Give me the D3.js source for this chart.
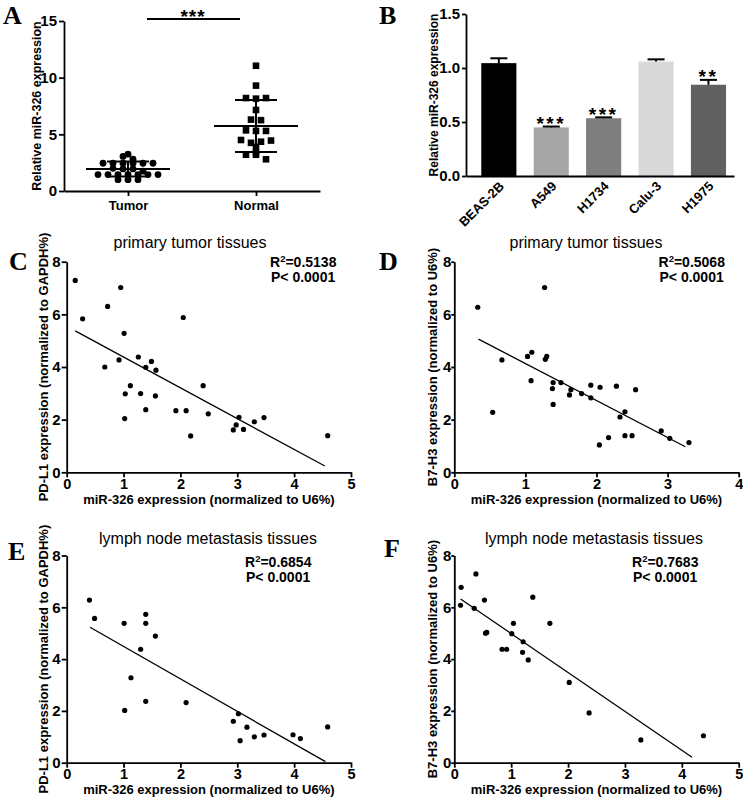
<!DOCTYPE html>
<html><head><meta charset="utf-8">
<script src="https://cdn.jsdelivr.net/npm/d3@7"></script>
<style>body{margin:0;background:#fff} svg{display:block}</style>
</head><body><svg id="c" width="743" height="798" font-family='"Liberation Sans", Arial, sans-serif'></svg>
<script>
// ---------- Panel A data ----------
const groupsA = ["Tumor", "Normal"];
const tumorVals = [3.25, 3.05, 2.8, 2.45, 2.45, 2.45, 2.45, 2.45, 2.45, 2.0, 1.95, 1.95, 1.75, 1.45, 1.45, 1.45, 1.45, 1.45, 1.45, 1.45, 1.0, 1.0, 1.0];
const normalVals = [11.05, 9.3, 8.2, 8.15, 8.2, 7.15, 6.3, 6.25, 5.35, 5.3, 5.3, 4.5, 4.25, 4.35, 4.45, 3.9, 3.4, 3.2, 3.2, 2.8];
const yTicksA = [0, 5, 10, 15];
const sigA = "***";
// ---------- Panel B data ----------
const cellLines = ["BEAS-2B", "A549", "H1734", "Calu-3", "H1975"];
const cellMeans = [1.045, 0.45, 0.535, 1.06, 0.845];
const cellErr = [0.045, 0.008, 0.008, 0.02, 0.045];
const cellStars = ["", "***", "***", "", "**"];
const yTicksB = [0, 0.5, 1.0, 1.5];
// ---------- Panel C data ----------
const cX = [0.15,0.28,0.72,0.95,1.01,0.67,0.92,1.26,1.39,1.49,1.57,1.12,1.03,1.30,1.56,2.05,2.40,1.39,1.92,2.10,2.49,1.02,2.18,3.03,2.98,2.93,3.11,3.30,3.47,4.59];
const cY = [7.29,5.83,6.30,7.02,5.28,4.00,4.27,4.38,3.99,4.21,3.88,3.29,2.98,2.99,2.90,5.88,3.29,2.38,2.34,2.34,2.22,2.04,1.38,2.09,1.80,1.61,1.63,1.92,2.08,1.39];
const fitC = [[0.15, 5.37], [4.54, 0.24]];
// ---------- Panel D data ----------
const dX = [0.33,1.27,0.67,1.03,1.09,1.28,1.30,1.08,1.39,1.50,1.38,1.64,1.62,1.79,1.92,1.92,2.05,2.28,2.55,1.39,0.54,2.40,2.33,2.04,2.17,2.40,2.50,2.91,3.03,3.30];
const dY = [6.27,7.02,4.27,4.40,4.56,4.29,4.40,3.48,3.41,3.41,3.18,3.14,2.94,2.99,3.31,2.83,3.23,3.27,3.14,2.58,2.28,2.30,2.10,1.04,1.32,1.39,1.39,1.57,1.29,1.13];
const fitD = [[0.34, 5.06], [3.25, 0.97]];
// ---------- Panel E data ----------
const eX = [0.40,0.49,1.01,1.39,1.39,1.56,1.30,1.13,1.02,1.39,2.10,2.93,3.02,3.17,3.05,3.30,3.47,3.98,4.11,4.59];
const eY = [6.28,5.57,5.38,5.73,5.38,4.89,4.38,3.28,2.02,2.37,2.32,1.60,1.89,1.37,0.85,1.00,1.07,1.08,0.93,1.38];
const fitE = [[0.41, 5.23], [4.55, 0.04]];
// ---------- Panel F data ----------
const fX = [0.12,0.11,0.35,0.53,1.38,0.55,0.57,1.04,1.01,1.68,0.84,0.92,1.21,1.20,1.30,2.02,2.37,3.28,4.38,0.38];
const fY = [6.77,6.08,5.96,6.28,6.39,5.00,5.03,5.38,4.98,5.38,4.38,4.38,4.67,4.26,3.97,3.10,1.92,0.88,1.04,7.29];
const fitF = [[0.11, 6.32], [4.18, 0.21]];
const scatterYTicks = [0, 2, 4, 6, 8];

const svg = d3.select("#c");
const FONT = '"Liberation Sans", Arial, sans-serif';

function styleAxis(g, fs) {
  g.attr("font-size", fs).attr("font-weight", "bold").attr("font-family", FONT);
  g.selectAll("path,line").attr("stroke", "#000").attr("stroke-width", 1.8);
  g.selectAll("text").attr("fill", "#000").attr("font-weight", "bold");
}
function letter(t, x, y) {
  svg.append("text").attr("x", x).attr("y", y).text(t)
    .attr("font-family", '"Liberation Serif", "Times New Roman", serif')
    .attr("font-size", 26).attr("font-weight", "bold").attr("fill", "#000");
}
function yLabel(t, x, yc, fs) {
  svg.append("text").attr("transform", `translate(${x},${yc}) rotate(-90)`)
    .attr("text-anchor", "middle").attr("font-weight", "bold").attr("font-size", fs).text(t);
}

// ================= Panel A =================
(function () {
  const x = d3.scalePoint().domain(groupsA).range([64, 320]).padding(0.5);
  const y = d3.scaleLinear().domain([0, 15]).range([191, 21]);
  const gy = svg.append("g").attr("transform", "translate(64,0)")
    .call(d3.axisLeft(y).tickValues(yTicksA).tickSize(5).tickSizeOuter(0).tickPadding(2));
  styleAxis(gy, 15);
  const gx = svg.append("g").attr("transform", "translate(0,191)")
    .call(d3.axisBottom(x).tickSize(5).tickSizeOuter(0).tickPadding(5));
  styleAxis(gx, 13);
  gx.selectAll("text").attr("dy", "0.71em");
  yLabel("Relative miR-326 expression", 41, 106, 12.5);
  letter("A", 3, 24);

  const sets = [tumorVals, normalVals];
  sets.forEach((vals, gi) => {
    const cx = x(groupsA[gi]);
    const rows = d3.group(vals.map(v => ({ v })), d => Math.round(d.v * 2));
    const pts = [];
    rows.forEach(arr => arr.forEach((d, i) => pts.push({ v: d.v, x: cx + (i - (arr.length - 1) / 2) * 10 })));
    if (gi === 0) {
      svg.append("g").selectAll("circle").data(pts).join("circle")
        .attr("cx", d => d.x).attr("cy", d => y(d.v)).attr("r", 3.4).attr("fill", "#000");
    } else {
      svg.append("g").selectAll("rect").data(pts).join("rect")
        .attr("x", d => d.x - 3.3).attr("y", d => y(d.v) - 3.3).attr("width", 6.6).attr("height", 6.6).attr("fill", "#000");
    }
    const m = d3.mean(vals), s = d3.deviation(vals);
    const g = svg.append("g").attr("stroke", "#000").attr("stroke-width", 2);
    g.append("line").attr("x1", cx - 42).attr("x2", cx + 42).attr("y1", y(m)).attr("y2", y(m));
    g.append("line").attr("x1", cx).attr("x2", cx).attr("y1", y(m - s)).attr("y2", y(m + s));
    g.append("line").attr("x1", cx - 21).attr("x2", cx + 21).attr("y1", y(m + s)).attr("y2", y(m + s));
    g.append("line").attr("x1", cx - 21).attr("x2", cx + 21).attr("y1", y(m - s)).attr("y2", y(m - s));
  });
  svg.append("line").attr("x1", 147).attr("x2", 240).attr("y1", 19).attr("y2", 19).attr("stroke", "#000").attr("stroke-width", 2);
  svg.append("text").attr("x", 193).attr("y", 22.5).attr("text-anchor", "middle")
    .attr("font-size", 19).attr("font-weight", "bold").attr("letter-spacing", 1).text(sigA);
})();

// ================= Panel B =================
(function () {
  const barFills = ["#000000", "#a6a6a6", "#7f7f7f", "#d9d9d9", "#616161"];
  const x = d3.scaleBand().domain(cellLines).range([466, 734]).paddingInner(0.33).paddingOuter(0.222).align(0.657);
  const y = d3.scaleLinear().domain([0, 1.5]).range([176, 14]);
  const data = cellLines.map((c, i) => ({ c, m: cellMeans[i], e: cellErr[i], s: cellStars[i], f: barFills[i] }));
  svg.append("g").selectAll("rect").data(data).join("rect")
    .attr("x", d => x(d.c)).attr("width", x.bandwidth())
    .attr("y", d => y(d.m)).attr("height", d => y(0) - y(d.m)).attr("fill", d => d.f);
  const eg = svg.append("g").attr("stroke", "#000").attr("stroke-width", 2);
  data.forEach(d => {
    const cx = x(d.c) + x.bandwidth() / 2;
    eg.append("line").attr("x1", cx).attr("x2", cx).attr("y1", y(d.m)).attr("y2", y(d.m + d.e));
    eg.append("line").attr("x1", cx - 8.5).attr("x2", cx + 8.5).attr("y1", y(d.m + d.e)).attr("y2", y(d.m + d.e));
    if (d.s) svg.append("text").attr("x", cx).attr("y", y(d.m + d.e) - 5 + 0.43 * 19)
      .attr("text-anchor", "middle").attr("font-size", 19).attr("font-weight", "bold").attr("letter-spacing", 2.5).text(d.s);
  });
  const gy = svg.append("g").attr("transform", "translate(466,0)")
    .call(d3.axisLeft(y).tickValues(yTicksB).tickFormat(d3.format(".1f")).tickSize(4).tickSizeOuter(0).tickPadding(2));
  styleAxis(gy, 15);
  const gx = svg.append("g").attr("transform", "translate(0,176)")
    .call(d3.axisBottom(x).tickSize(0).tickSizeOuter(0).tickFormat(""));
  styleAxis(gx, 12);
  svg.append("g").selectAll("text").data(cellLines).join("text")
    .attr("transform", d => `translate(${x(d) + x.bandwidth() / 2 + 6},${187}) rotate(-45)`)
    .attr("text-anchor", "end").attr("font-size", 13).attr("font-weight", "bold").text(d => d);
  yLabel("Relative miR-326 expression", 438, 95, 12);
  letter("B", 379, 24);
})();

// ================= Scatter panels =================
function scatterPanel(o) {
  const x = d3.scaleLinear().domain([0, o.xmax]).range([o.x0, o.x1]);
  const y = d3.scaleLinear().domain([0, 8]).range([o.y0, o.y1]);
  const gy = svg.append("g").attr("transform", `translate(${o.x0},0)`)
    .call(d3.axisLeft(y).tickValues(scatterYTicks).tickSize(o.tk).tickSizeOuter(0).tickPadding(o.tp));
  styleAxis(gy, 15);
  const gx = svg.append("g").attr("transform", `translate(0,${o.y0})`)
    .call(d3.axisBottom(x).tickValues(d3.range(0, o.xmax + 1)).tickFormat(d3.format("d")).tickSize(5).tickSizeOuter(0).tickPadding(1));
  styleAxis(gx, 14.5);
  const pts = o.xs.map((v, i) => [v, o.ys[i]]);
  svg.append("g").selectAll("circle").data(pts).join("circle")
    .attr("cx", d => x(d[0])).attr("cy", d => y(d[1])).attr("r", 2.6).attr("fill", "#000");
  svg.append("path").attr("d", d3.line().x(d => x(d[0])).y(d => y(d[1]))(o.fit))
    .attr("stroke", "#000").attr("stroke-width", 1.3).attr("fill", "none");
  svg.append("text").attr("x", o.tx).attr("y", o.ty).attr("text-anchor", "middle")
    .attr("font-size", 16).text(o.title);
  const r = svg.append("text").attr("x", o.sx).attr("y", o.sy).attr("font-size", 14).attr("font-weight", "bold");
  r.append("tspan").text("R");
  r.append("tspan").attr("font-size", 9.5).attr("dy", -5).text("2");
  r.append("tspan").attr("dy", 5).text("=" + o.r2);
  svg.append("text").attr("x", o.sx + 1).attr("y", o.sy + 15.5).attr("font-size", 14).attr("font-weight", "bold").text(o.p);
  svg.append("text").attr("x", (o.x0 + o.x1) / 2).attr("y", o.xly).attr("text-anchor", "middle")
    .attr("font-size", 13).attr("font-weight", "bold").text(o.xlab);
  yLabel(o.ylab, o.ylx, (o.y0 + o.y1) / 2, 13);
  letter(o.L, o.lx, o.ly);
}

scatterPanel({ L: "C", lx: 9, ly: 270, xs: cX, ys: cY, fit: fitC, xmax: 5, x0: 66.7, x1: 351, y0: 472.3, y1: 261.7, tk: 5, tp: 1,
  title: "primary tumor tissues", tx: 190, ty: 248, r2: "0.5138", p: "P< 0.0001", sx: 270, sy: 266.7,
  xlab: "miR-326 expression (normalized to U6%)", xly: 504, ylab: "PD-L1 expression (normalized to GAPDH%)", ylx: 48 });
scatterPanel({ L: "D", lx: 379, ly: 270, xs: dX, ys: dY, fit: fitD, xmax: 4, x0: 454.3, x1: 738.7, y0: 472.3, y1: 261.7, tk: 3, tp: 0,
  title: "primary tumor tissues", tx: 586, ty: 248, r2: "0.5068", p: "P< 0.0001", sx: 658.5, sy: 266.7,
  xlab: "miR-326 expression (normalized to U6%)", xly: 504, ylab: "B7-H3 expression (normalized to U6%)", ylx: 437 });
scatterPanel({ L: "E", lx: 8, ly: 560, xs: eX, ys: eY, fit: fitE, xmax: 5, x0: 66.7, x1: 351, y0: 762.7, y1: 555.5, tk: 5, tp: 1,
  title: "lymph node metastasis tissues", tx: 208, ty: 544, r2: "0.6854", p: "P< 0.0001", sx: 245, sy: 566.7,
  xlab: "miR-326 expression (normalized to U6%)", xly: 794, ylab: "PD-L1 expression (normalized to GAPDH%)", ylx: 48 });
scatterPanel({ L: "F", lx: 384, ly: 557, xs: fX, ys: fY, fit: fitF, xmax: 5, x0: 454.3, x1: 738.7, y0: 762.7, y1: 555.5, tk: 3, tp: 0,
  title: "lymph node metastasis tissues", tx: 594, ty: 544, r2: "0.7683", p: "P< 0.0001", sx: 632, sy: 566.7,
  xlab: "miR-326 expression (normalized to U6%)", xly: 794, ylab: "B7-H3 expression (normalized to U6%)", ylx: 437 });
</script></body></html>
